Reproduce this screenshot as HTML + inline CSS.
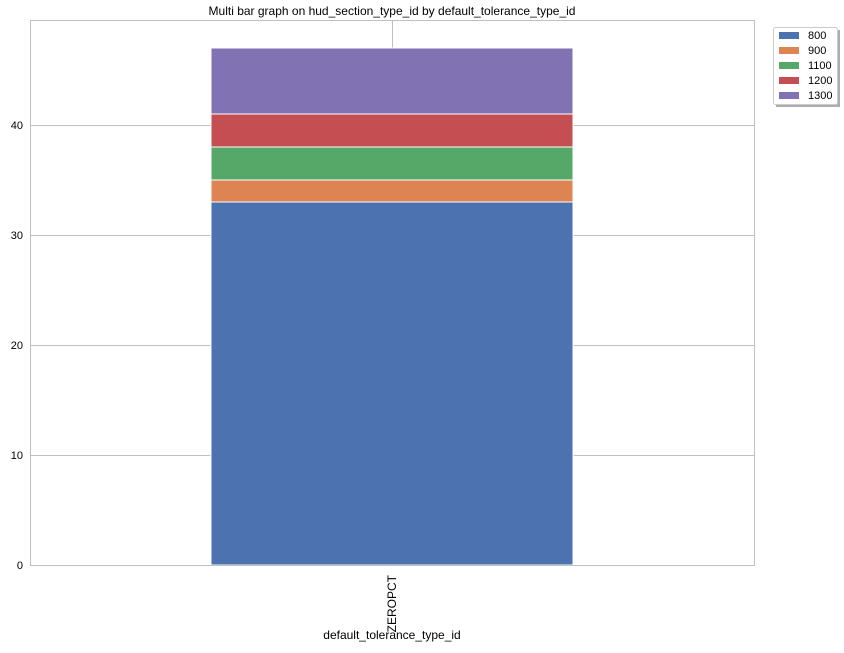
<!DOCTYPE html>
<html><head><meta charset="utf-8"><style>
body{margin:0;background:#fff;font-family:"Liberation Sans",Arial,sans-serif;}
svg text{font-family:"Liberation Sans",Arial,sans-serif;fill:#000;}
</style></head><body>
<svg id="chart" width="844" height="648" xmlns="http://www.w3.org/2000/svg">
<rect width="844" height="648" fill="#fff"/>
<text x="392" y="15" font-size="12" text-anchor="middle">Multi bar graph on hud_section_type_id by default_tolerance_type_id</text>
<g id="grid"></g>
<g id="bars"></g>
<rect x="30.5" y="20.5" width="724" height="545" fill="none" stroke="#bfbfbf"/>
<g id="ticks"></g>
<text x="392" y="639" font-size="12" text-anchor="middle">default_tolerance_type_id</text>
<g id="legend"></g>
</svg>
<script>
const categories = ["ZEROPCT"];
const seriesNames = ["800","900","1100","1200","1300"];
const seriesValues = [[33],[2],[3],[3],[6]];
const colors = ["#4c72b0","#dd8452","#55a868","#c44e52","#8172b3"];
const yTicks = [0,10,20,30,40];

const NS="http://www.w3.org/2000/svg";
const X0=30,X1=754,Y0=565,Y1=20,YMAX=49.545;
function y(v){return Y0-(v/YMAX)*(Y0-Y1);}
function xc(i){return X0+(i+0.5)*(X1-X0)/categories.length;}
const bw=(X1-X0)/categories.length*0.5;
function mk(t,a,p){const e=document.createElementNS(NS,t);for(const k in a)e.setAttribute(k,a[k]);p.appendChild(e);return e;}
const grid=document.getElementById('grid'),ticks=document.getElementById('ticks'),bars=document.getElementById('bars'),leg=document.getElementById('legend');
yTicks.forEach(t=>{
  const l=mk('line',{x1:X0,x2:X1,y1:Math.round(y(t))+0.5,y2:Math.round(y(t))+0.5,stroke:'#bfbfbf'},grid);
  
  
  const tx=mk('text',{x:X0-7,y:y(t)+4,'font-size':11,'text-anchor':'end'},ticks);
  tx.textContent=t;
  
  
});
categories.forEach((c,i)=>{
  const vl=mk('line',{x1:Math.round(xc(i))+0.5,x2:Math.round(xc(i))+0.5,y1:Y1,y2:Y0,stroke:'#bfbfbf'},grid);
  
  
  let base=0;
  seriesValues.forEach((s,k)=>{
    const v=s[i];
    const r=mk('rect',{x:xc(i)-bw/2,y:y(base+v),width:bw,height:y(base)-y(base+v),fill:colors[k],stroke:'#fff','stroke-width':1},bars);
    
    
    base+=v;
  });
  const tx=mk('text',{'font-size':12,'text-anchor':'end',transform:`translate(${xc(i)+4},${Y0+10}) rotate(-90)`},ticks);
  tx.textContent=c;
  
  
});
const sh=mk('rect',{x:776,y:30,width:64,height:77,fill:'#777',opacity:0.6},leg);


const lb=mk('rect',{x:773.5,y:27.5,width:64,height:77,fill:'#fff',stroke:'#ccc',rx:2},leg);


seriesNames.forEach((n,k)=>{
  const yy=35+k*15;
  const sw=mk('rect',{x:779,y:yy-3,width:20,height:7,fill:colors[k]},leg);
  
  
  const t=mk('text',{x:808,y:yy+4,'font-size':11},leg);
  t.textContent=n;
  
  
});
</script>
</body></html>
